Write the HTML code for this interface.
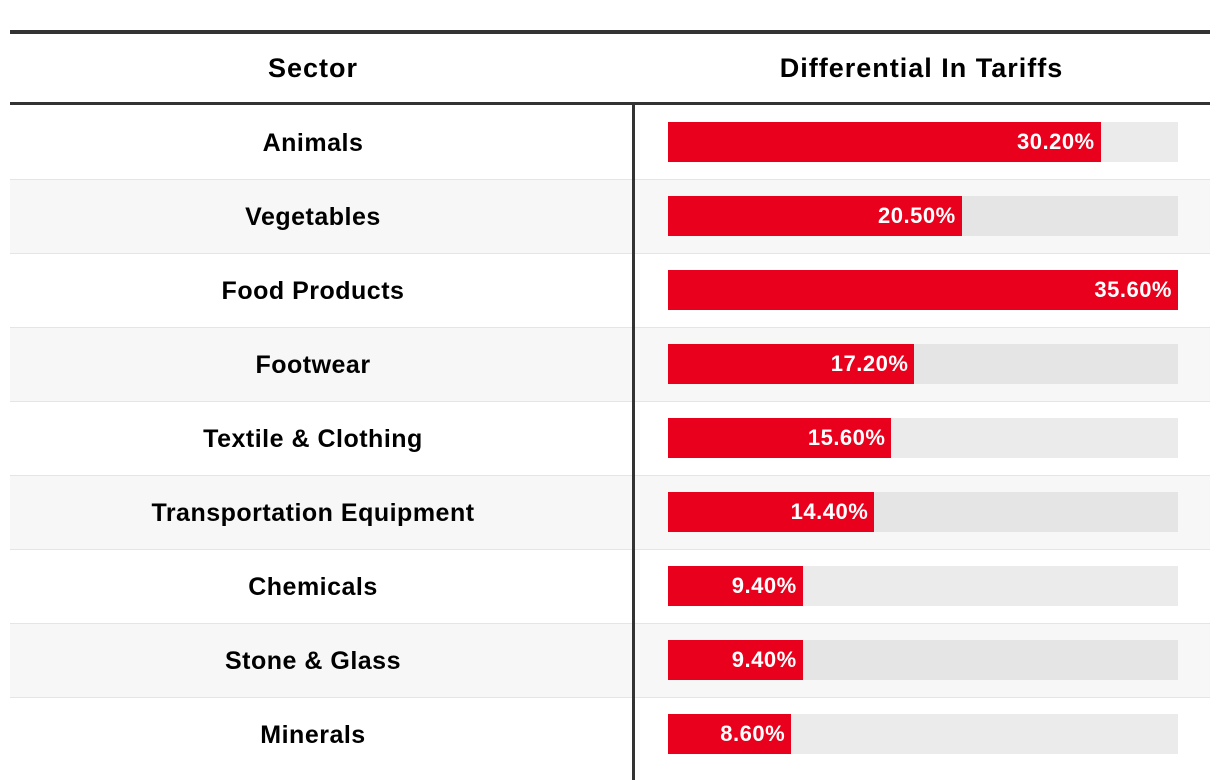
<!DOCTYPE html>
<html><head><meta charset="utf-8"><style>
body{margin:0;width:1220px;height:780px;background:#fff;font-family:"Liberation Sans",sans-serif;position:relative;overflow:hidden}
div{position:absolute;box-sizing:border-box}
.lbl{font-weight:bold;font-size:25px;letter-spacing:0.5px;color:#000;text-align:center;white-space:nowrap}
.hdr{font-size:27px;letter-spacing:1px}
.val{font-weight:bold;font-size:22px;letter-spacing:0.5px;color:#fff;text-align:right;padding-right:6px;line-height:40px;white-space:nowrap}
</style></head><body>
<div style="left:10px;top:30px;width:1200px;height:4px;background:#333"></div>
<div class="lbl hdr" style="left:10px;width:606px;top:50px;line-height:36px">Sector</div>
<div class="lbl hdr" style="left:633px;width:577px;top:50px;line-height:36px">Differential In Tariffs</div>
<div style="left:10px;top:102px;width:1200px;height:4px;background:#333"></div>
<div id="rows"></div>
<div style="left:632px;top:105px;width:3px;height:675px;background:#333"></div>
<script>
const sectors=["Animals","Vegetables","Food Products","Footwear","Textile & Clothing","Transportation Equipment","Chemicals","Stone & Glass","Minerals"];
const values=[30.2,20.5,35.6,17.2,15.6,14.4,9.4,9.4,8.6];
const maxV=Math.max(...values);
const x0=668,W=510,top0=105,RH=74;
const xs=v=>v/maxV*W;
const root=document.getElementById('rows');
sectors.forEach((s,i)=>{
  const y=top0+i*RH;
  const row=document.createElement('div');
  
  
  row.style.cssText=`left:10px;top:${y}px;width:1200px;height:${RH}px;background:${i%2?'#f7f7f7':'#fff'};border-top:${i?'1px solid #e5e5e5':'none'}`;
  document.body.insertBefore(row,root);
  const l=document.createElement('div');
  l.className='lbl';
  
  
  l.style.cssText=`left:10px;width:606px;top:${y+19}px;line-height:38px`;
  l.textContent=s;
  root.appendChild(l);
  const t=document.createElement('div');
  
  
  t.style.cssText=`left:${x0}px;top:${y+17}px;width:${W}px;height:40px;background:${i%2?'#e5e5e5':'#ebebeb'}`;
  root.appendChild(t);
  const b=document.createElement('div');
  b.className='val';
  
  
  b.style.cssText=`left:${x0}px;top:${y+17}px;width:${xs(values[i])}px;height:40px;background:#e8001c`;
  b.textContent=values[i].toFixed(2)+'%';
  root.appendChild(b);
});
</script>
</body></html>
